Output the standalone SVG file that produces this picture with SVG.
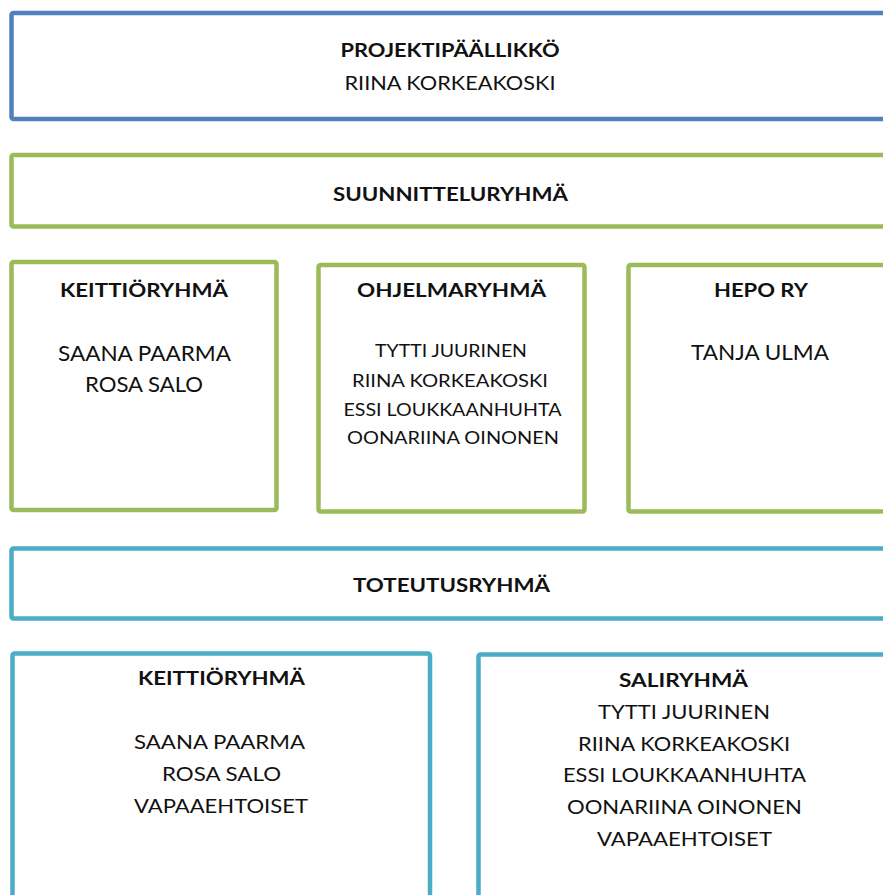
<svg xmlns="http://www.w3.org/2000/svg" width="883" height="895" viewBox="0 0 883 895">
<style>
rect{fill:#fff;stroke-width:4.5}
.b{stroke:#4F81BD}.g{stroke:#9BBB59}.c{stroke:#4BACC6}
text{font-family:Lato,"Open Sans","Liberation Sans",sans-serif;fill:#111;text-anchor:middle}
.t{font-weight:bold;font-size:19px}
.n{font-size:19px}
.s{font-size:17px}
.l{font-size:20.5px}
</style>
<rect width="883" height="895" style="fill:#fff;stroke:none"/>
<g id="projektipaallikko">
<rect class="b" x="11.5" y="13" width="890" height="106" rx="2"/>
<text class="t" x="450" y="57" textLength="219" lengthAdjust="spacingAndGlyphs">PROJEKTIPÄÄLLIKKÖ</text>
<text class="n" x="450" y="90" textLength="211" lengthAdjust="spacingAndGlyphs">RIINA KORKEAKOSKI</text>
</g>
<g id="suunnitteluryhma">
<rect class="g" x="11.5" y="155" width="890" height="71.5" rx="2"/>
<text class="t" x="450.5" y="200.5" textLength="235" lengthAdjust="spacingAndGlyphs">SUUNNITTELURYHMÄ</text>
</g>
<g id="keittioryhma1">
<rect class="g" x="11.5" y="262" width="265" height="248" rx="2"/>
<text class="t" x="144" y="297" textLength="168" lengthAdjust="spacingAndGlyphs">KEITTIÖRYHMÄ</text>
<text class="l" x="144.5" y="360.5" textLength="173" lengthAdjust="spacingAndGlyphs">SAANA PAARMA</text>
<text class="l" x="144" y="391.5" textLength="118" lengthAdjust="spacingAndGlyphs">ROSA SALO</text>
</g>
<g id="ohjelmaryhma">
<rect class="g" x="318.5" y="265" width="266" height="246.5" rx="2"/>
<text class="t" x="451.5" y="296.7" textLength="189" lengthAdjust="spacingAndGlyphs">OHJELMARYHMÄ</text>
<text class="s" x="451" y="357" textLength="152" lengthAdjust="spacingAndGlyphs">TYTTI JUURINEN</text>
<text class="s" x="450" y="386.5" textLength="196" lengthAdjust="spacingAndGlyphs">RIINA KORKEAKOSKI</text>
<text class="s" x="452.5" y="415.5" textLength="218" lengthAdjust="spacingAndGlyphs">ESSI LOUKKAANHUHTA</text>
<text class="s" x="453" y="444" textLength="212" lengthAdjust="spacingAndGlyphs">OONARIINA OINONEN</text>
</g>
<g id="hepo-ry">
<rect class="g" x="628.5" y="265" width="300" height="246.5" rx="2"/>
<text class="t" x="761" y="297.3" textLength="94" lengthAdjust="spacingAndGlyphs">HEPO RY</text>
<text class="l" x="760" y="360" textLength="138" lengthAdjust="spacingAndGlyphs">TANJA ULMA</text>
</g>
<g id="toteutusryhma">
<rect class="c" x="11.5" y="548.5" width="890" height="70" rx="2"/>
<text class="t" x="451.5" y="591.7" textLength="197" lengthAdjust="spacingAndGlyphs">TOTEUTUSRYHMÄ</text>
</g>
<g id="keittioryhma2">
<rect class="c" x="12.5" y="653.5" width="417.5" height="300" rx="2"/>
<text class="t" x="221.5" y="685" textLength="167" lengthAdjust="spacingAndGlyphs">KEITTIÖRYHMÄ</text>
<text class="n" x="219.5" y="749.3" textLength="171" lengthAdjust="spacingAndGlyphs">SAANA PAARMA</text>
<text class="n" x="221.5" y="780.7" textLength="119" lengthAdjust="spacingAndGlyphs">ROSA SALO</text>
<text class="n" x="221" y="812.7" textLength="174" lengthAdjust="spacingAndGlyphs">VAPAAEHTOISET</text>
</g>
<g id="saliryhma">
<rect class="c" x="478.5" y="654.5" width="450" height="300" rx="2"/>
<text class="t" x="683.5" y="687.3" textLength="129" lengthAdjust="spacingAndGlyphs">SALIRYHMÄ</text>
<text class="n" x="684" y="719.3" textLength="172" lengthAdjust="spacingAndGlyphs">TYTTI JUURINEN</text>
<text class="n" x="684" y="751" textLength="212" lengthAdjust="spacingAndGlyphs">RIINA KORKEAKOSKI</text>
<text class="n" x="684.5" y="782.3" textLength="243" lengthAdjust="spacingAndGlyphs">ESSI LOUKKAANHUHTA</text>
<text class="n" x="684.5" y="814.3" textLength="235" lengthAdjust="spacingAndGlyphs">OONARIINA OINONEN</text>
<text class="n" x="684.5" y="846" textLength="175" lengthAdjust="spacingAndGlyphs">VAPAAEHTOISET</text>
</g>
<g id="connectors"/>
</svg>
